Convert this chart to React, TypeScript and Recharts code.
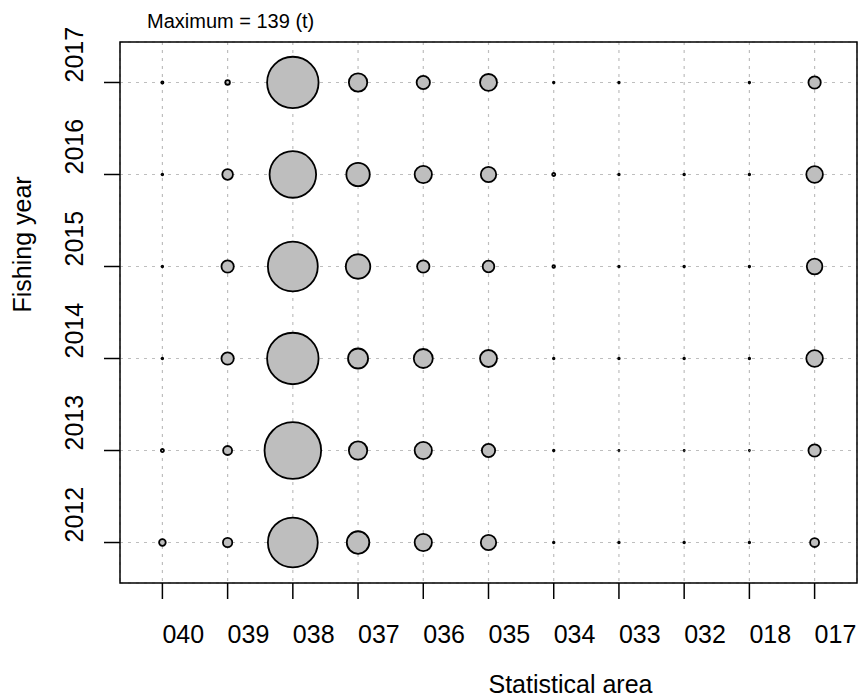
import {
  ScatterChart,
  Scatter,
  XAxis,
  YAxis,
  ZAxis,
  CartesianGrid,
  ReferenceArea,
} from "recharts";

// statistical areas, left to right
const areas = ["040", "039", "038", "037", "036", "035", "034", "033", "032", "018", "017"];
const years = [2012, 2013, 2014, 2015, 2016, 2017];

// catch (t) by area, one array per fishing year
const catch2012 = [1.9, 3.8, 108, 22, 13, 10.3, 0.1, 0.1, 0.1, 0.1, 3.5];
const catch2013 = [0.4, 3.5, 139, 14.7, 13, 7.7, 0.1, 0.05, 0.05, 0.05, 6.6];
const catch2014 = [0.1, 6.6, 115, 17.4, 15.7, 12.5, 0.1, 0.1, 0.1, 0.1, 12];
const catch2015 = [0.1, 6.6, 108, 26, 6.6, 5.9, 0.3, 0.1, 0.1, 0.1, 10.6];
const catch2016 = [0.1, 4.9, 94, 23.7, 13, 10.3, 0.4, 0.1, 0.1, 0.1, 12];
const catch2017 = [0.2, 0.9, 115, 14.7, 7.7, 12.5, 0.1, 0.1, 0, 0.1, 6.6];

const maxCatch = 139;
const catchByYear = [catch2012, catch2013, catch2014, catch2015, catch2016, catch2017];

const points = years.flatMap((yr, i) =>
  catchByYear[i]
    .map((v, j) => ({ x: j + 1, y: yr, z: v, area: areas[j] }))
    .filter((p) => p.z > 0)
);

const W = 859;
const H = 698;
const PLOT_LEFT = 120;
const PLOT_TOP = 42;
const PLOT_RIGHT = 857;
const PLOT_BOTTOM = 583;
const MAX_R = 28.3;

const FONT = "'Liberation Sans', Arial, Helvetica, sans-serif";
const X_DOMAIN: [number, number] = [0.35, 11.65];
const Y_DOMAIN: [number, number] = [2011.56, 2017.44];

function XTick(props: any) {
  const { x, payload } = props;
  return (
    <text x={x} y={PLOT_BOTTOM + 60} textAnchor="start" fontSize={25} fontFamily={FONT} fill="#000">
      {areas[payload.value - 1]}
    </text>
  );
}

function YTick(props: any) {
  const { y, payload } = props;
  const bx = PLOT_LEFT - 37;
  return (
    <text
      x={bx}
      y={y}
      textAnchor="start"
      fontSize={25}
      fontFamily={FONT}
      fill="#000"
      transform={`rotate(-90, ${bx}, ${y})`}
    >
      {payload.value}
    </text>
  );
}

export default function App() {
  const midY = (PLOT_TOP + PLOT_BOTTOM) / 2;
  const midX = (PLOT_LEFT + PLOT_RIGHT) / 2;
  return (
    <div style={{ position: "absolute", left: 0, top: 0, width: W, height: H, background: "#fff" }}>
      <ScatterChart
        width={W}
        height={H}
        margin={{ top: PLOT_TOP, right: W - PLOT_RIGHT, bottom: 0, left: 0 }}
      >
        <CartesianGrid stroke="#BEBEBE" strokeDasharray="3 5" strokeWidth={1.2} />
        <XAxis
          type="number"
          dataKey="x"
          domain={X_DOMAIN}
          ticks={areas.map((_, i) => i + 1)}
          interval={0}
          height={H - PLOT_BOTTOM}
          axisLine={false}
          tickLine={{ stroke: "#000", strokeWidth: 1.5 }}
          tickSize={16}
          tick={<XTick />}
        />
        <YAxis
          type="number"
          dataKey="y"
          domain={Y_DOMAIN}
          ticks={years}
          interval={0}
          width={PLOT_LEFT}
          axisLine={false}
          tickLine={{ stroke: "#000", strokeWidth: 1.5 }}
          tickSize={16}
          tick={<YTick />}
        />
        <ZAxis type="number" dataKey="z" domain={[0, maxCatch]} range={[0, Math.PI * MAX_R * MAX_R]} />
        <ReferenceArea
          x1={X_DOMAIN[0]}
          x2={X_DOMAIN[1]}
          y1={Y_DOMAIN[0]}
          y2={Y_DOMAIN[1]}
          fill="none"
          stroke="#000"
          strokeWidth={1.5}
          ifOverflow="visible"
        />
        <Scatter
          data={points}
          fill="#BEBEBE"
          stroke="#000"
          strokeWidth={1.8}
          isAnimationActive={false}
        />
      </ScatterChart>
      <svg
        width={W}
        height={H}
        style={{ position: "absolute", left: 0, top: 0, pointerEvents: "none" }}
      >
        <text x={147} y={28} fontSize={20} fontFamily={FONT} fill="#000">
          Maximum = {maxCatch} (t)
        </text>
        <text x={midX} y={693} fontSize={25} fontFamily={FONT} fill="#000" textAnchor="start">
          Statistical area
        </text>
        <text
          x={31}
          y={midY}
          fontSize={25}
          fontFamily={FONT}
          fill="#000"
          textAnchor="start"
          transform={`rotate(-90, 31, ${midY})`}
        >
          Fishing year
        </text>
      </svg>
    </div>
  );
}
